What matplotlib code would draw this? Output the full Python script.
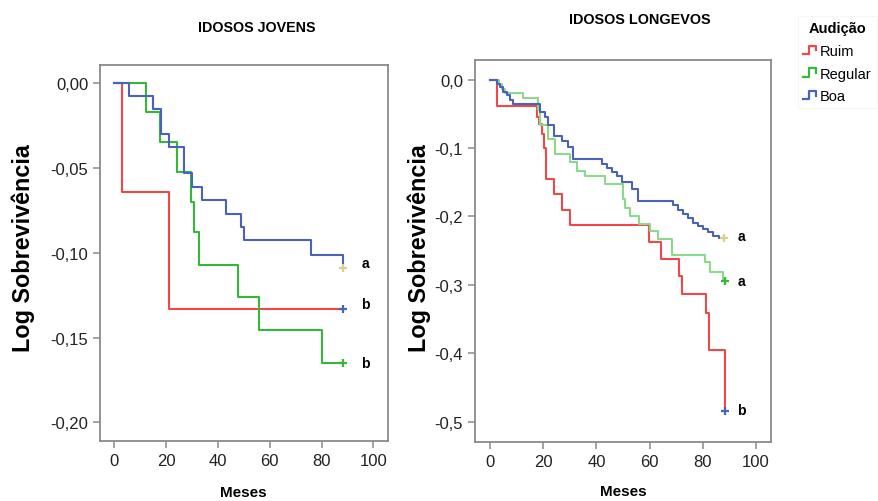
import matplotlib
matplotlib.use('Agg')
import matplotlib.pyplot as plt
from matplotlib.lines import Line2D
from matplotlib.legend_handler import HandlerBase

plt.rcParams['font.family'] = ['Liberation Sans', 'DejaVu Sans']

# ---- data ----
groups = ['Ruim', 'Regular', 'Boa']

# idosos jovens
jov_ruim_t = [0, 2.9, 21.1]
jov_ruim_y = [0, -0.0643, -0.1333]
jov_ruim_end = 88.4

jov_reg_t = [0, 12.1, 17.6, 24.1, 29.6, 30.9, 32.8, 47.9, 56.0, 80.1]
jov_reg_y = [0, -0.0167, -0.0344, -0.0521, -0.0702, -0.0879, -0.107, -0.1259, -0.1454, -0.165]
jov_reg_end = 88.4

jov_boa_t = [0, 5.8, 14.9, 17.9, 21.0, 26.8, 29.9, 34.0, 43.1, 49.0, 50.1, 76.1, 88.2]
jov_boa_y = [0, -0.0075, -0.015, -0.0299, -0.0378, -0.0527, -0.0612, -0.0689, -0.0769,
             -0.085, -0.0927, -0.101, -0.109]
jov_boa_end = 88.2

# idosos longevos
lon_ruim_t = [0, 2.8, 17.8, 18.6, 19.4, 20.3, 21.1, 24.0, 27.2, 30.2, 59.9, 64.2,
              71.2, 72.1, 81.2, 82.2, 88.3]
lon_ruim_y = [0, -0.039, -0.055, -0.065, -0.080, -0.100, -0.145, -0.167, -0.190, -0.2125,
              -0.238, -0.262, -0.287, -0.313, -0.342, -0.396, -0.484]
lon_ruim_end = 88.3

lon_reg_t = [0, 3.5, 4.4, 5.6, 12.3, 18.2, 18.8, 21.9, 24.4, 30.1, 32.6, 35.7, 43.4,
             49.9, 50.9, 52.8, 55.9, 60.3, 63.3, 68.3, 80.8, 82.7, 87.7]
lon_reg_y = [0, -0.006, -0.013, -0.019, -0.027, -0.045, -0.067, -0.087, -0.109, -0.121,
             -0.133, -0.141, -0.153, -0.175, -0.187, -0.200, -0.211, -0.221, -0.233,
             -0.256, -0.267, -0.281, -0.294]
lon_reg_end = 88.3

lon_boa_t = [0, 2.5, 3.8, 5.0, 6.3, 7.5, 8.8, 18.8, 20.7, 21.9, 24.1, 26.9, 29.4, 31.1,
             42.0, 43.9, 45.7, 47.6, 49.5, 53.3, 55.8, 68.9, 70.8, 72.7, 74.6, 76.4,
             78.3, 80.2, 82.1, 84.0, 85.9]
lon_boa_y = [0, -0.006, -0.011, -0.0175, -0.023, -0.029, -0.035, -0.048, -0.055, -0.067,
             -0.082, -0.089, -0.099, -0.116, -0.123, -0.129, -0.135, -0.141, -0.149,
             -0.160, -0.178, -0.184, -0.190, -0.196, -0.202, -0.209, -0.214, -0.219,
             -0.223, -0.228, -0.231]
lon_boa_end = 88.1

# significance letters (ruim, regular, boa)
jov_letters = ['b', 'b', 'a']
lon_letters = ['b', 'a', 'a']

jov_yticks = [0.0, -0.05, -0.10, -0.15, -0.20]
jov_yticklabels = ['0,00', '-0,05', '-0,10', '-0,15', '-0,20']
lon_yticks = [0.0, -0.1, -0.2, -0.3, -0.4, -0.5]
lon_yticklabels = ['0,0', '-0,1', '-0,2', '-0,3', '-0,4', '-0,5']
xticks = [0, 20, 40, 60, 80, 100]

# ---- styling ----
red = '#f04848'
green = '#34b83a'
green_light = '#8cd88c'
blue = '#4a62b8'
censor_yellow = '#d8d090'


class StepHandler(HandlerBase):
    # small SPSS-like step symbol for the legend
    def create_artists(self, legend, orig_handle, xdescent, ydescent,
                       width, height, fontsize, trans):
        w = width
        h = height
        xs = [0, 0.45 * w, 0.45 * w, 0.9 * w, 0.9 * w]
        ys = [0.1 * h, 0.1 * h, 0.9 * h, 0.9 * h, 0.45 * h]
        ln = Line2D(xs, ys, color=orig_handle.get_color(), lw=1.6)
        ln.set_transform(trans)
        return [ln]


def draw_curve(ax, t, y, end, color, mcolor):
    tt = list(t) + [end]
    yy = list(y) + [y[-1]]
    ax.step(tt, yy, where='post', color=color, lw=1.5)
    ax.plot([end], [y[-1]], marker='+', color=mcolor, ms=6, mew=1.6, ls='none')


def style_axes(ax):
    for s in ax.spines.values():
        s.set_color('#8a8a8a')
        s.set_linewidth(1.3)
    ax.tick_params(axis='both', direction='out', length=5, width=1.1,
                   color='#8a8a8a', labelsize=12, labelcolor='#222222')
    ax.set_xticks(xticks)
    ax.set_xticklabels([str(v) for v in xticks])


fig = plt.figure(figsize=(8.79, 5.02), dpi=100)

# left panel
ax1 = fig.add_axes([0.1138, 0.1195, 0.3277, 0.749])
draw_curve(ax1, jov_ruim_t, jov_ruim_y, jov_ruim_end, red, blue)
draw_curve(ax1, jov_reg_t, jov_reg_y, jov_reg_end, green, green)
draw_curve(ax1, jov_boa_t, jov_boa_y, jov_boa_end, blue, censor_yellow)
ax1.set_xlim(-5.5, 105.7)
ax1.set_ylim(-0.211, 0.0108)
ax1.set_yticks(jov_yticks)
ax1.set_yticklabels(jov_yticklabels)
style_axes(ax1)
jov_letter_y = [-0.130, -0.165, -0.106]
for lab, ly in zip(jov_letters, jov_letter_y):
    ax1.text(96.8, ly, lab, ha='center', va='center', fontsize=10, fontweight='bold')

# right panel
ax2 = fig.add_axes([0.5404, 0.1175, 0.3367, 0.761])
draw_curve(ax2, lon_ruim_t, lon_ruim_y, lon_ruim_end, red, blue)
draw_curve(ax2, lon_reg_t, lon_reg_y, lon_reg_end, green_light, green)
draw_curve(ax2, lon_boa_t, lon_boa_y, lon_boa_end, blue, censor_yellow)
ax2.set_xlim(-5.6, 105.6)
ax2.set_ylim(-0.53, 0.0288)
ax2.set_yticks(lon_yticks)
ax2.set_yticklabels(lon_yticklabels)
style_axes(ax2)
lon_letter_y = [-0.483, -0.294, -0.228]
for lab, ly in zip(lon_letters, lon_letter_y):
    ax2.text(94.5, ly, lab, ha='center', va='center', fontsize=10, fontweight='bold')

# titles and labels
fig.text(0.2924, 0.944, 'IDOSOS JOVENS', ha='center', va='center',
         fontsize=10.3, fontweight='bold')
fig.text(0.728, 0.96, 'IDOSOS LONGEVOS', ha='center', va='center',
         fontsize=10.4, fontweight='bold')
for xf in [0.027, 0.4765]:
    fig.text(xf, 0.506, 'Log Sobrevivência', rotation=90, ha='center', va='center',
             fontsize=16.8, fontweight='bold')
fig.text(0.2765, 0.018, 'Meses', ha='center', va='center', fontsize=11, fontweight='bold')
fig.text(0.709, 0.02, 'Meses', ha='center', va='center', fontsize=11, fontweight='bold')

# legend
handles = [Line2D([], [], color=c) for c in [red, green, blue]]
leg = fig.legend(handles, groups, title='Audição', loc='upper left',
                 bbox_to_anchor=(0.904, 0.972), frameon=True, fontsize=10.5,
                 handler_map={Line2D: StepHandler()}, handlelength=1.0,
                 handletextpad=0.2, labelspacing=0.6, borderpad=0.35,
                 borderaxespad=0.2, fancybox=False)
leg.get_title().set_fontweight('bold')
leg.get_title().set_fontsize(10.5)
leg.get_frame().set_edgecolor('#f4f4f4')
leg.get_frame().set_linewidth(0.8)

fig.savefig('out.png', dpi=100)
